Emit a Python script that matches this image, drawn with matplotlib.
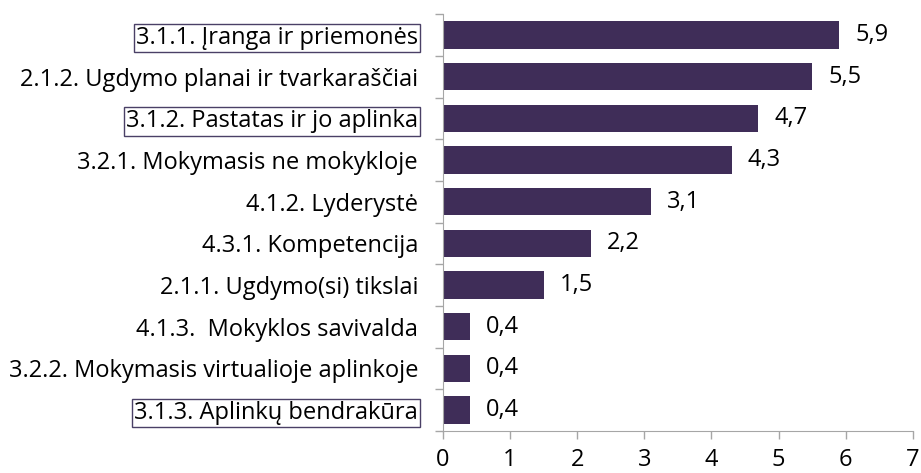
import numpy as np
import matplotlib.pyplot as plt

plt.rcParams['font.family'] = ['Open Sans', 'DejaVu Sans']

# Categories from top to bottom
categories = [
    '3.1.1. Įranga ir priemonės',
    '2.1.2. Ugdymo planai ir tvarkaraščiai',
    '3.1.2. Pastatas ir jo aplinka',
    '3.2.1. Mokymasis ne mokykloje',
    '4.1.2. Lyderystė',
    '4.3.1. Kompetencija',
    '2.1.1. Ugdymo(si) tikslai',
    '4.1.3.  Mokyklos savivalda',
    '3.2.2. Mokymasis virtualioje aplinkoje',
    '3.1.3. Aplinkų bendrakūra',
]
values = [5.9, 5.5, 4.7, 4.3, 3.1, 2.2, 1.5, 0.4, 0.4, 0.4]
value_labels = ['5,9', '5,5', '4,7', '4,3', '3,1', '2,2', '1,5', '0,4', '0,4', '0,4']
boxed = {'3.1.1. Įranga ir priemonės', '3.1.2. Pastatas ir jo aplinka',
         '3.1.3. Aplinkų bendrakūra'}
x_ticks = [0, 1, 2, 3, 4, 5, 6, 7]

bar_color = '#3f2d58'
axis_color = '#a6a6a6'
fs = 17

fig = plt.figure(figsize=(9.21, 4.73), dpi=100)
ax = fig.add_axes([0.481, 0.089, 0.510, 0.881])

y = np.arange(len(categories))[::-1]
ax.barh(y, values, height=0.66, color=bar_color)

for yi, v, lab in zip(y, values, value_labels):
    ax.text(v + 0.24, yi, lab, va='center', ha='left', fontsize=fs, color='black')

ax.set_xlim(0, 7)
ax.set_ylim(-0.5, len(categories) - 0.5)
ax.set_xticks(x_ticks)
ax.set_xticklabels([str(t) for t in x_ticks], fontsize=fs)

ax.set_yticks(y)
ax.set_yticklabels(categories, fontsize=fs)
ax.set_yticks(np.arange(-0.5, len(categories), 1.0), minor=True)
ax.tick_params(axis='y', which='major', length=0, pad=18)
ax.tick_params(axis='y', which='minor', length=6, color=axis_color, width=1)
ax.tick_params(axis='x', which='major', length=6, color=axis_color, width=1, pad=6)

for lbl in ax.get_yticklabels():
    if lbl.get_text() in boxed:
        lbl.set_bbox(dict(facecolor='white', edgecolor='#4a4066', linewidth=1.0,
                          boxstyle='square,pad=0.1'))

for side in ['top', 'right']:
    ax.spines[side].set_visible(False)
for side in ['left', 'bottom']:
    ax.spines[side].set_color(axis_color)

fig.savefig('out.png', dpi=100)
